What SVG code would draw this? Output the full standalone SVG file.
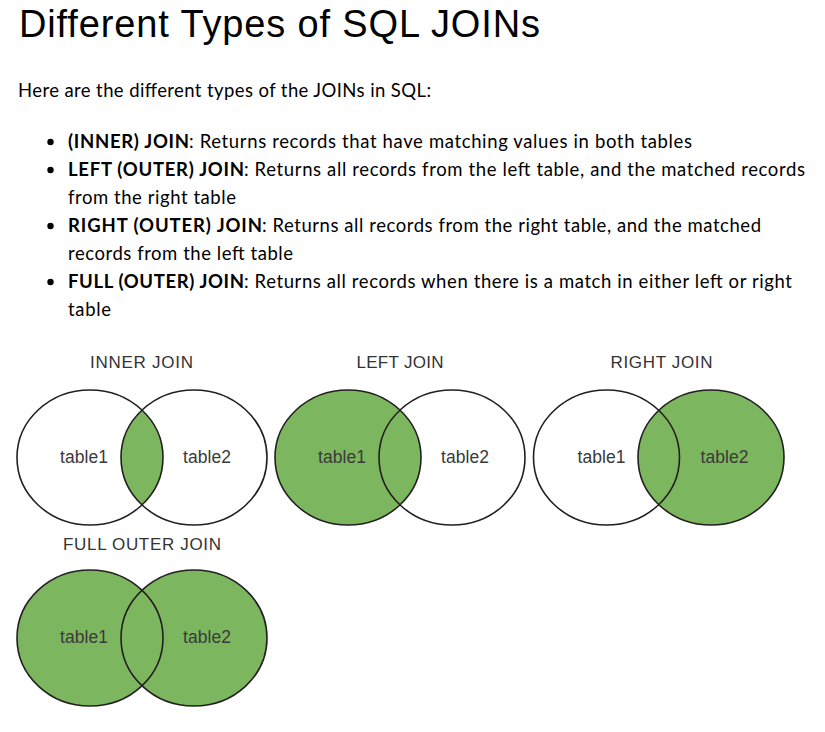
<svg xmlns="http://www.w3.org/2000/svg" width="825" height="732" viewBox="0 0 825 732">
<style>
.title{font-family:"Liberation Sans",Arial,sans-serif;font-size:38px;fill:#000}
.body{font-family:Lato,"Open Sans",sans-serif;font-size:18.5px;fill:#000}
.b{font-weight:bold}
.vt{font-family:"Liberation Sans",Arial,sans-serif;font-size:17px;fill:#333}
.lbl{font-family:"Liberation Sans",Arial,sans-serif;font-size:17.5px;fill:#3a3a3a}
.c{stroke:#231f20;stroke-width:1.6}
.w{fill:#fff}
.g{fill:#7cb65f}
.o{fill:none}
</style>
<defs>
<clipPath id="clipInnerL"><ellipse cx="90" cy="457.5" rx="73" ry="67.5"/></clipPath>
</defs>
<rect width="825" height="732" fill="#fff"/>
<text class="title" x="19" y="37" textLength="521" lengthAdjust="spacing">Different Types of SQL JOINs</text>
<text class="body" x="18" y="97" textLength="413" lengthAdjust="spacing">Here are the different types of the JOINs in SQL:</text>
<g id="bullets">
<circle cx="50.5" cy="142" r="3.2" fill="#000"/>
<circle cx="50.5" cy="170" r="3.2" fill="#000"/>
<circle cx="50.5" cy="226" r="3.2" fill="#000"/>
<circle cx="50.5" cy="282" r="3.2" fill="#000"/>
</g>
<g id="list">
<text class="body" y="148"><tspan class="b" x="68" textLength="121" lengthAdjust="spacing">(INNER) JOIN</tspan><tspan x="189" textLength="503" lengthAdjust="spacing">: Returns records that have matching values in both tables</tspan></text>
<text class="body" y="176"><tspan class="b" x="68" textLength="176" lengthAdjust="spacing">LEFT (OUTER) JOIN</tspan><tspan x="244" textLength="561" lengthAdjust="spacing">: Returns all records from the left table, and the matched records</tspan></text>
<text class="body" x="68" y="204" textLength="168" lengthAdjust="spacing">from the right table</text>
<text class="body" y="232"><tspan class="b" x="68" textLength="194" lengthAdjust="spacing">RIGHT (OUTER) JOIN</tspan><tspan x="262" textLength="499" lengthAdjust="spacing">: Returns all records from the right table, and the matched</tspan></text>
<text class="body" x="68" y="260" textLength="225" lengthAdjust="spacing">records from the left table</text>
<text class="body" y="288"><tspan class="b" x="68" textLength="176" lengthAdjust="spacing">FULL (OUTER) JOIN</tspan><tspan x="244" textLength="548" lengthAdjust="spacing">: Returns all records when there is a match in either left or right</tspan></text>
<text class="body" x="68" y="316" textLength="43" lengthAdjust="spacing">table</text>
</g>
<g id="inner-join">
<text class="vt" x="141.5" y="368" text-anchor="middle" textLength="103" lengthAdjust="spacing">INNER JOIN</text>
<ellipse class="w" cx="90" cy="457.5" rx="73" ry="67.5"/>
<ellipse class="w" cx="194" cy="457.5" rx="73" ry="67.5"/>
<ellipse class="g" cx="194" cy="457.5" rx="73" ry="67.5" clip-path="url(#clipInnerL)"/>
<ellipse class="c o" cx="90" cy="457.5" rx="73" ry="67.5"/>
<ellipse class="c o" cx="194" cy="457.5" rx="73" ry="67.5"/>
<text class="lbl" x="84" y="462.5" text-anchor="middle" textLength="48" lengthAdjust="spacing">table1</text>
<text class="lbl" x="207" y="462.5" text-anchor="middle" textLength="48" lengthAdjust="spacing">table2</text>
</g>
<g id="left-join">
<text class="vt" x="400" y="368" text-anchor="middle" textLength="87" lengthAdjust="spacing">LEFT JOIN</text>
<ellipse class="w" cx="452" cy="457.5" rx="73" ry="67.5"/>
<ellipse class="g" cx="348" cy="457.5" rx="73" ry="67.5"/>
<ellipse class="c o" cx="348" cy="457.5" rx="73" ry="67.5"/>
<ellipse class="c o" cx="452" cy="457.5" rx="73" ry="67.5"/>
<text class="lbl" x="342" y="462.5" text-anchor="middle" textLength="48" lengthAdjust="spacing">table1</text>
<text class="lbl" x="465" y="462.5" text-anchor="middle" textLength="48" lengthAdjust="spacing">table2</text>
</g>
<g id="right-join">
<text class="vt" x="661.5" y="368" text-anchor="middle" textLength="102" lengthAdjust="spacing">RIGHT JOIN</text>
<ellipse class="w" cx="606.5" cy="457.5" rx="73" ry="67.5"/>
<ellipse class="g" cx="711" cy="457.5" rx="73" ry="67.5"/>
<ellipse class="c o" cx="606.5" cy="457.5" rx="73" ry="67.5"/>
<ellipse class="c o" cx="711" cy="457.5" rx="73" ry="67.5"/>
<text class="lbl" x="601.5" y="462.5" text-anchor="middle" textLength="48" lengthAdjust="spacing">table1</text>
<text class="lbl" x="724.5" y="462.5" text-anchor="middle" textLength="48" lengthAdjust="spacing">table2</text>
</g>
<g id="full-outer-join">
<text class="vt" x="142" y="550" text-anchor="middle" textLength="158" lengthAdjust="spacing">FULL OUTER JOIN</text>
<ellipse class="g" cx="90" cy="638" rx="73" ry="68"/>
<ellipse class="g" cx="194" cy="638" rx="73" ry="68"/>
<ellipse class="c o" cx="90" cy="638" rx="73" ry="68"/>
<ellipse class="c o" cx="194" cy="638" rx="73" ry="68"/>
<text class="lbl" x="84" y="643" text-anchor="middle" textLength="48" lengthAdjust="spacing">table1</text>
<text class="lbl" x="207" y="643" text-anchor="middle" textLength="48" lengthAdjust="spacing">table2</text>
</g>
<g id="connectors"/>
</svg>
